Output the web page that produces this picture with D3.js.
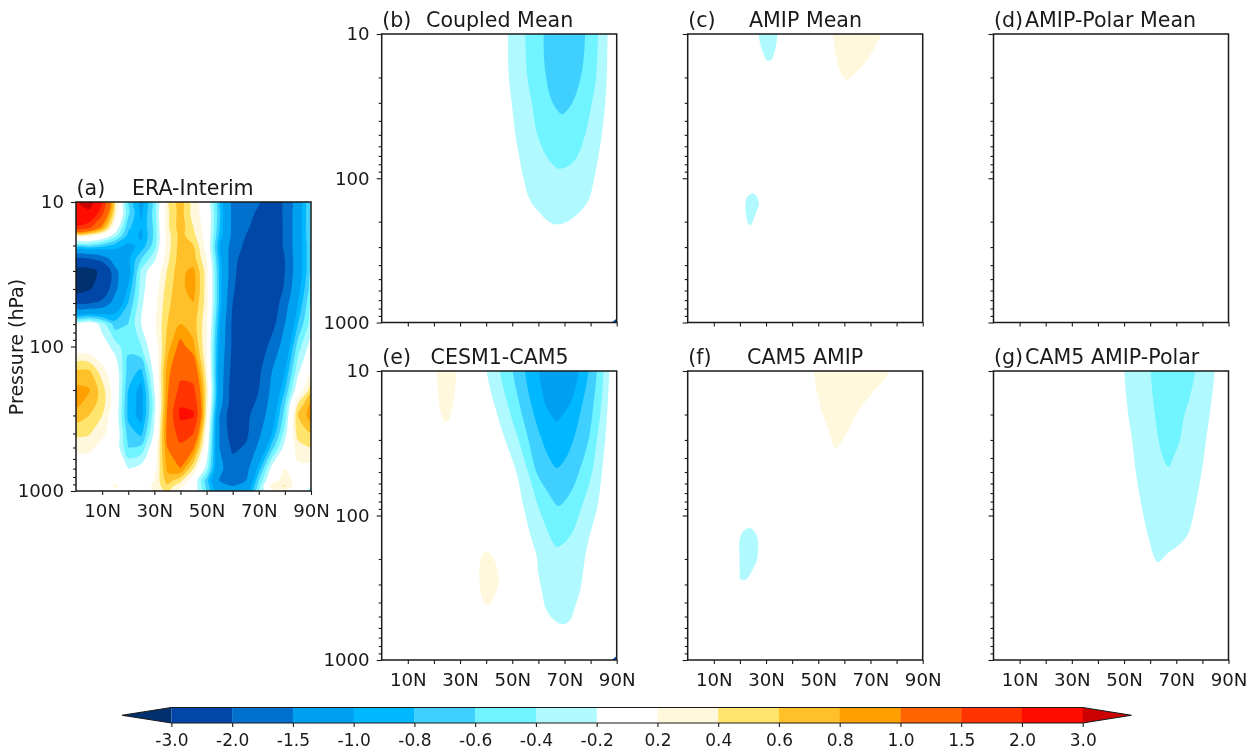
<!DOCTYPE html>
<html><head><meta charset="utf-8">
<script src="https://cdn.jsdelivr.net/npm/d3@7"></script>
<style>
html,body{margin:0;padding:0;background:#fff}
svg{display:block;filter:blur(0.35px)}
text{font-family:"DejaVu Sans",sans-serif;fill:#1a1a1a}
</style></head><body>
<svg id="chart" width="1256" height="752"></svg>
<script>
const latitudes = [0,5,10,15,20,25,30,35,40,45,50,55,60,65,70,75,80,85,90];
const pressureA = [10,12,15,17,20,25,30,40,50,70,100,150,200,250,300,400,500,700,850,925,1000];
const levels = [-3,-2,-1.5,-1,-0.8,-0.6,-0.4,-0.2,0.2,0.4,0.6,0.8,1,1.5,2,3];
const levelLabels = ["-3.0","-2.0","-1.5","-1.0","-0.8","-0.6","-0.4","-0.2","0.2","0.4","0.6","0.8","1.0","1.5","2.0","3.0"];
const thresholds = [0.2,0.4,0.6,0.8,1,1.5,2,3];
const negColors = ["#b0faff","#70f4ff","#40d0ff","#00b8ff","#00a0f0","#0070cc","#0047a8","#003070"];
const posColors = ["#fff8dc","#ffe46e","#ffc02a","#ffa000","#ff6400","#ff3400","#ff0c00","#cc0000"];
const barColors = ["#0047a8","#0070cc","#00a0f0","#00b8ff","#40d0ff","#70f4ff","#b0faff","#ffffff","#fff8dc","#ffe46e","#ffc02a","#ffa000","#ff6400","#ff3400","#ff0c00"];
const xTicks = [10,20,30,40,50,60,70,80,90];
const xLabelled = [10,30,50,70,90];
const yMajor = [10,100,1000];
const yMinor = [20,30,40,50,60,70,80,90,200,300,400,500,600,700,800,900];
const cornerSpeck = [[88.1,1000],[90,1000],[90,938]];

// ERA-Interim anomaly grid: rows = pressureA, columns = latitudes
const eraInterim = [
[2.9,3.5,1.9,.4,-.6,-1.1,-.5,.35,.7,.28,.05,-.75,-1.6,-1.8,-1.95,-2.3,-1.9,-1.2,-.5],
[2.5,2.7,1.6,.35,-.55,-1.05,-.5,.35,.7,.3,.08,-.75,-1.6,-1.8,-2.1,-2.4,-1.9,-1.2,-.55],
[1.9,1.6,.9,0,-.75,-1,-.55,.35,.72,.4,.08,-.8,-1.6,-1.9,-2.25,-2.5,-1.9,-1.2,-.55],
[.3,.3,.1,-.3,-.85,-1.05,-.55,.3,.68,.45,.08,-.85,-1.6,-2,-2.35,-2.5,-1.9,-1.2,-.55],
[-.5,-.55,-.7,-.9,-1.05,-.95,-.5,.3,.7,.6,.1,-1,-1.7,-2.1,-2.5,-2.5,-1.9,-1.2,-.6],
[-2.2,-2.1,-1.8,-1.3,-1.05,-.6,-.25,.35,.72,.7,.2,-.9,-1.8,-2.3,-2.6,-2.6,-2,-1.2,-.6],
[-3.3,-3.3,-2.8,-1.6,-1.15,-.35,-.03,.42,.75,.85,.3,-.85,-1.8,-2.5,-2.7,-2.7,-2,-1.2,-.6],
[-3.4,-3.1,-2.5,-1.6,-.95,-.3,.05,.5,.75,.88,.3,-.85,-1.9,-2.5,-2.8,-2.6,-1.9,-1.1,-.5],
[-2.1,-2.05,-1.85,-1.3,-.8,-.25,.1,.55,.75,.8,.3,-.85,-2,-2.5,-2.7,-2.4,-1.7,-1,-.4],
[0,0,-.3,-.7,-.6,-.2,.15,.6,.8,.7,.25,-1,-2.1,-2.4,-2.6,-2.2,-1.5,-.8,-.3],
[0,0,-.05,-.3,-.55,-.4,0,.7,1.1,.85,.2,-1.1,-2.1,-2.4,-2.4,-1.8,-1.3,-.5,-.1],
[.65,.65,.3,0,-.7,-.85,-.1,.9,1.35,1.3,.3,-1.2,-2.2,-2.3,-2.1,-1.5,-1,-.25,.2],
[.85,.82,.5,.05,-.8,-1.1,-.2,.95,1.65,1.6,.4,-1.2,-2.3,-2.3,-2,-1.4,-.8,0,.5],
[.85,.72,.5,.05,-.85,-1.1,-.3,1,1.95,1.9,.35,-1.3,-2.3,-2.2,-1.9,-1.3,-.6,.4,.85],
[.7,.6,.4,0,-.85,-1.1,-.25,1.05,2.1,2.05,.3,-1.5,-2.4,-2.1,-1.8,-1.2,-.5,.6,.9],
[.45,.42,.25,.05,-.7,-.85,-.15,1.1,1.7,1.5,.1,-1.5,-2.3,-2.1,-1.6,-1,-.3,.5,.6],
[.25,.25,.12,0,-.6,-.55,0,1,1.4,1.05,0,-1.5,-2.1,-1.95,-1.4,-.7,-.1,.3,.4],
[.05,.05,.05,-.05,-.2,-.1,.1,.85,1,.4,-.3,-1.4,-1.75,-1.7,-.9,-.1,.2,.15,.1],
[0,0,.05,.15,0,.05,.2,.7,.45,0,-.7,-1.5,-1.7,-1.5,-.6,.1,.3,.1,-.1],
[0,0,0,.25,.05,.05,.25,.55,.25,0,-.65,-1.35,-1.5,-1.35,-.5,.35,.42,.05,-.15],
[0,0,0,.1,0,.05,.25,.45,.15,0,-.6,-1.2,-1.2,-1.2,-.4,.1,.15,0,-.3]];

// Model panels: each contour is listed as rows of [pressure hPa, west edge deg, east edge deg]
const coupledMean = [
 {level:-0.2, rows:[[10,48.3,86.5],[20,48.7,86.2],[30,49.8,85.6],[50,51.2,84.3],[70,52.6,83],[100,54.3,81.4],[142,56.8,79.2],[175,60.7,75.3],[200,64,71],[209,67,67]]},
 {level:-0.4, rows:[[10,55,82.8],[20,55.8,82.1],[30,57.5,80.5],[50,59.6,77.9],[70,63,75],[81,65.8,72],[86,67.7,67.7]]},
 {level:-0.6, rows:[[10,62,77.9],[15,62.2,77.3],[20,63,76.2],[27,64.5,74.1],[33,66.8,71.5],[36,69,69]]}
];
const amipMean = [
 {level:-0.2, rows:[[10,27.2,34.3],[11.6,27.7,34],[13.6,29,33.1],[15,30,32.2],[15.3,31,31]]},
 {level:-0.2, rows:[[127,24.9,24.9],[134,22.9,26.4],[150,22.1,27.3],[176,22.3,26],[200,22.9,24.9],[212,23.9,23.9]]},
 {level:0.2, rows:[[10,55.7,73.9],[11.6,56,72.4],[12.9,56.4,71.1],[16.9,57.7,66.7],[19.7,59.4,62.8],[20.8,61,61]]}
];
const amipPolarMean = [];
const cesmCam5 = [
 {level:0.2, rows:[[10,21.1,28.7],[13.5,21.5,28.1],[17.7,22.1,27.2],[21.3,23.4,25.9],[22.7,24.6,24.6]]},
 {level:0.2, rows:[[178,40.2,40.2],[193,38.3,42.5],[226,37.4,44],[265,37.4,44.8],[312,37.7,44.4],[366,38.3,43],[407,39.6,41.5],[418,40.4,40.4]]},
 {level:-0.2, rows:[[10,40.2,87.2],[17.7,43.4,86.5],[30,47.3,85.6],[51,51.7,84.3],[87,54.3,82.6],[148,57.5,79.2],[193,59.4,77.9],[253,60,77],[330,61.3,76],[430,62.6,74],[503,64.8,72.8],[554,67.7,70.9],[566,69.3,69.3]]},
 {level:-0.4, rows:[[10,45.3,84.9],[17.7,48.5,84],[30,52.4,82.4],[51,56.2,80.5],[87,60,76.6],[133,63.9,72.8],[156,65.8,69.6],[165,67,67]]},
 {level:-0.6, rows:[[10,50.2,82.4],[17.7,53,81],[30,56.2,79.2],[51,59.4,75.4],[67,63.2,72.8],[82.6,66.4,69.3],[86,67.7,67.7]]},
 {level:-0.8, rows:[[10,54.9,79.2],[17.7,57.5,76.6],[30,61.3,73.4],[41,64.5,70.2],[47,67,67]]},
 {level:-1, rows:[[10,60.3,75.4],[13.5,61.3,74],[17.7,63,71.5],[21.3,65.8,68.3],[22.4,67,67]]}
];
const cam5Amip = [
 {level:0.2, rows:[[10,48.3,77.3],[15,49.9,69.5],[20,51.7,64.4],[24.3,53.5,62.2],[30,55.2,59.3],[34.5,56.4,56.4]]},
 {level:-0.2, rows:[[122,23.7,23.7],[129,21.2,25.6],[149,19.8,26.9],[174,19.8,26.9],[204,19.8,26.5],[239,19.9,24.7],[274,20.1,22.7],[280,21.2,21.2]]}
];
const cam5AmipPolar = [
 {level:-0.2, rows:[[10,50.1,84.7],[20,51.6,82.8],[30,53.1,81.4],[50,54.5,79.7],[100,57.4,76.5],[133,59,74.6],[156,60,71.7],[183,61,66.6],[210,62.9,62.9]]},
 {level:-0.4, rows:[[10,60.2,77.2],[15,61,75.3],[20,61.8,73.1],[30,63.2,71.4],[39,64.8,69],[46,67,67]]}
];

const panelData = {
  a:{tag:"(a)",name:"ERA-Interim",grid:eraInterim},
  b:{tag:"(b)",name:"Coupled Mean",contours:coupledMean},
  c:{tag:"(c)",name:"AMIP Mean",contours:amipMean},
  d:{tag:"(d)",name:"AMIP-Polar Mean",contours:amipPolarMean},
  e:{tag:"(e)",name:"CESM1-CAM5",contours:cesmCam5},
  f:{tag:"(f)",name:"CAM5 AMIP",contours:cam5Amip},
  g:{tag:"(g)",name:"CAM5 AMIP-Polar",contours:cam5AmipPolar}
};
const layout = {
  a:{x0:76,x1:311,y0:202,y1:491,nameX:132,yLabels:true,xLabels:true,speck:false},
  b:{x0:381.7,x1:616.7,y0:34,y1:322.5,nameX:426,yLabels:true,xLabels:false,speck:true},
  c:{x0:687.7,x1:922.7,y0:34,y1:322.5,nameX:749,yLabels:false,xLabels:false,speck:false},
  d:{x0:993.5,x1:1228.5,y0:34,y1:322.5,nameX:1025,yLabels:false,xLabels:false,speck:false},
  e:{x0:381.7,x1:616.7,y0:371,y1:660,nameX:430.5,yLabels:true,xLabels:true,speck:true},
  f:{x0:687.7,x1:922.7,y0:371,y1:660,nameX:747,yLabels:false,xLabels:true,speck:false},
  g:{x0:993.5,x1:1228.5,y0:371,y1:660,nameX:1025,yLabels:false,xLabels:true,speck:false}
};

const svg = d3.select("#chart");
svg.append("rect").attr("width",1256).attr("height",752).attr("fill","#fff");
const axisColor = "#1a1a1a";
const lineGen = d3.line().curve(d3.curveCatmullRomClosed.alpha(0.5));
const colorOf = lv => lv<0 ? negColors[thresholds.indexOf(-lv)] : posColors[thresholds.indexOf(lv)];

function gridRingsPath(multi, toPx){
  let out = "";
  multi.coordinates.forEach(poly => poly.forEach(ring => {
    const pts = [];
    ring.slice(0,-1).forEach(pt => {
      const q = toPx(pt);
      const last = pts[pts.length-1];
      if(!last || Math.abs(last[0]-q[0])>0.01 || Math.abs(last[1]-q[1])>0.01) pts.push(q);
    });
    if(pts.length>2) out += lineGen(pts);
  }));
  return out;
}

Object.keys(panelData).forEach(id => {
  const d = panelData[id], L = layout[id];
  const x = d3.scaleLinear().domain([0,90]).range([L.x0,L.x1]);
  const y = d3.scaleLog().domain([10,1000]).range([L.y0,L.y1]);
  const g = svg.append("g").attr("class","panel-"+id);
  const clipId = "clip-"+id;
  g.append("clipPath").attr("id",clipId).append("rect")
    .attr("x",L.x0).attr("y",L.y0).attr("width",L.x1-L.x0).attr("height",L.y1-L.y0);
  const plot = g.append("g").attr("clip-path",`url(#${clipId})`);

  if(d.grid){
    const nx = latitudes.length, ny = pressureA.length;
    const flat = d.grid.flat();
    const latOfIndex = d3.scaleLinear().domain(d3.range(nx)).range(latitudes).clamp(true);
    const logOfIndex = d3.scaleLinear().domain(d3.range(ny)).range(pressureA.map(Math.log10)).clamp(true);
    const toPx = ([fx,fy]) => {
      let px = x(latOfIndex(fx-0.5)), py = y(Math.pow(10,logOfIndex(fy-0.5)));
      if(fx<=0) px -= 5; if(fx>=nx) px += 5;
      if(fy<=0) py -= 5; if(fy>=ny) py += 5;
      return [px,py];
    };
    const contour = d3.contours().size([nx,ny]);
    [-1,1].forEach(sign => {
      const cols = sign<0 ? negColors : posColors;
      thresholds.forEach((t,i) => {
        const m = contour.thresholds([t])(flat.map(v => sign*v))[0];
        const p = gridRingsPath(m,toPx);
        if(p) plot.append("path").attr("d",p).attr("fill",cols[i]).attr("fill-rule","evenodd");
      });
    });
  }
  if(d.contours){
    d.contours.forEach(c => {
      const rows = c.rows[0][0]===10 ? [[8,c.rows[0][1],c.rows[0][2]],...c.rows] : c.rows;
      const west = rows.map(r => [x(r[1]),y(r[0])]);
      const east = rows.filter(r => r[1]!==r[2]).map(r => [x(r[2]),y(r[0])]).reverse();
      plot.append("path").attr("d",lineGen([...west,...east])).attr("fill",colorOf(c.level));
    });
  }
  if(L.speck){
    plot.append("path").attr("fill","#0047a8")
      .attr("d",d3.line().x(q=>x(q[0])).y(q=>y(q[1]))(cornerSpeck)+"Z");
  }

  const xAxis = d3.axisBottom(x).tickValues(xTicks).tickSize(4).tickPadding(9)
    .tickFormat(v => (L.xLabels && xLabelled.includes(v)) ? v+"N" : "");
  const gx = g.append("g").attr("transform",`translate(0,${L.y1})`).call(xAxis);
  const yMinAxis = d3.axisLeft(y).tickValues(yMinor).tickSize(3).tickFormat("");
  const gy0 = g.append("g").attr("transform",`translate(${L.x0},0)`).call(yMinAxis);
  const yMajAxis = d3.axisLeft(y).tickValues(yMajor).tickSize(5).tickPadding(7)
    .tickFormat(v => L.yLabels ? String(v) : "");
  const gy1 = g.append("g").attr("transform",`translate(${L.x0},0)`).call(yMajAxis);
  [gx,gy0,gy1].forEach(s => {
    s.select(".domain").remove();
    s.selectAll("line").attr("stroke",axisColor).attr("stroke-width",1.1);
    s.selectAll("text").attr("font-size",18.2).attr("font-family",'"DejaVu Sans"').attr("fill","#1a1a1a");
  });
  g.append("rect").attr("x",L.x0).attr("y",L.y0).attr("width",L.x1-L.x0).attr("height",L.y1-L.y0)
    .attr("fill","none").attr("stroke",axisColor).attr("stroke-width",1.5);

  const titleY = L.y0-7.5;
  g.append("text").attr("x",L.x0+0.5).attr("y",titleY).attr("font-size",20.6).text(d.tag);
  g.append("text").attr("x",L.nameX).attr("y",titleY).attr("font-size",20.6).text(d.name);
});

svg.append("text").attr("transform","translate(23,347) rotate(-90)")
  .attr("text-anchor","middle").attr("font-size",19).text("Pressure (hPa)");

const bar = svg.append("g").attr("class","colorbar");
const barX = d3.scalePoint().domain(levels).range([171.4,1082.7]);
const barTop = 707.5, barBottom = 723, barMid = (barTop+barBottom)/2;
levels.slice(0,-1).forEach((lv,i) => {
  bar.append("rect").attr("x",barX(lv)).attr("y",barTop)
    .attr("width",barX(levels[i+1])-barX(lv)+0.3).attr("height",barBottom-barTop)
    .attr("fill",barColors[i]);
});
bar.append("path").attr("d",`M${barX(-3)},${barTop}L122,${barMid}L${barX(-3)},${barBottom}Z`).attr("fill",negColors[7]);
bar.append("path").attr("d",`M${barX(3)},${barTop}L1131.5,${barMid}L${barX(3)},${barBottom}Z`).attr("fill",posColors[7]);
bar.append("path").attr("d",`M${barX(-3)},${barTop}L${barX(3)},${barTop}L1131.5,${barMid}L${barX(3)},${barBottom}L${barX(-3)},${barBottom}L122,${barMid}Z`)
  .attr("fill","none").attr("stroke","#1a1a1a").attr("stroke-width",1.1);
const barAxis = d3.axisBottom(barX).tickSize(4).tickPadding(7)
  .tickFormat((v,i) => levelLabels[i]);
const gb = bar.append("g").attr("transform",`translate(0,${barBottom})`).call(barAxis);
gb.select(".domain").remove();
gb.selectAll("line").attr("stroke","#1a1a1a").attr("stroke-width",1.1);
gb.selectAll("text").attr("font-size",17).attr("font-family",'"DejaVu Sans"').attr("fill","#1a1a1a");
</script>
</body></html>
